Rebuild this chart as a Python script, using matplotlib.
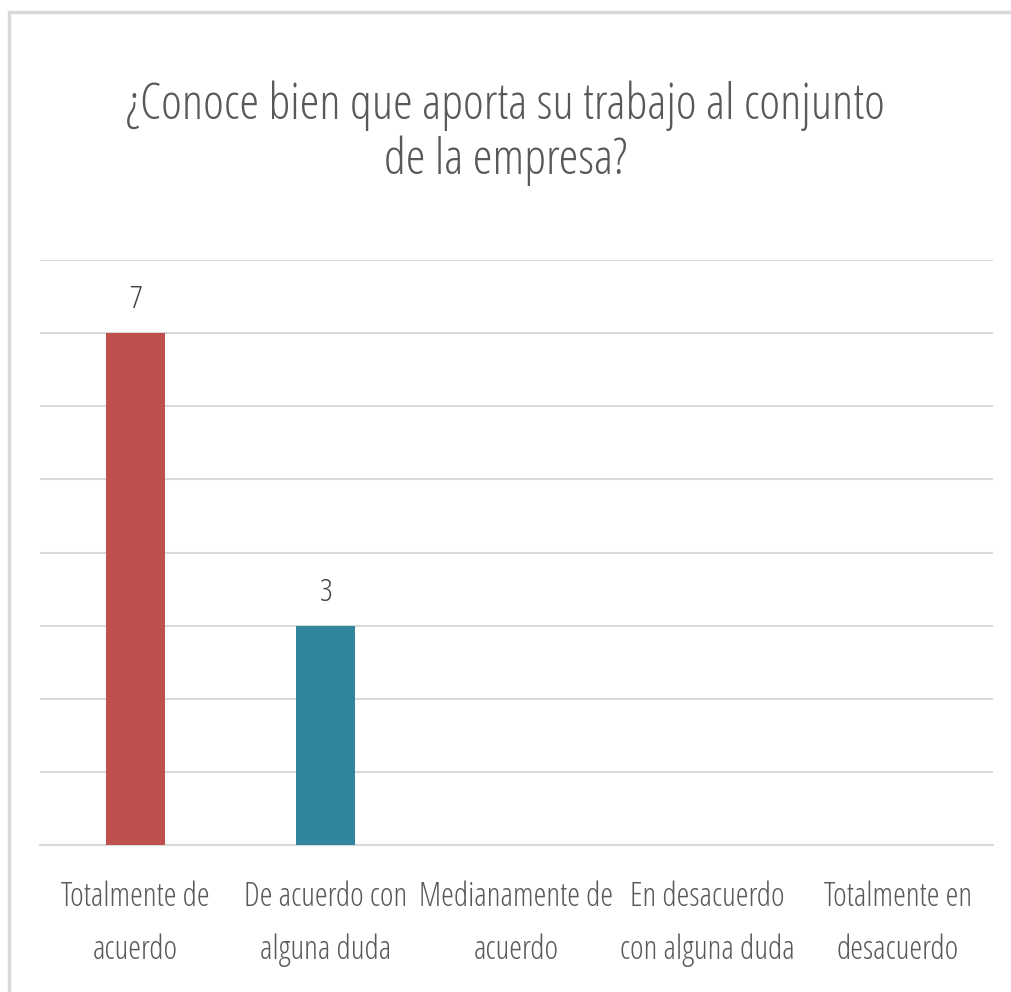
import matplotlib
matplotlib.use("Agg")
import matplotlib.pyplot as plt
from matplotlib.patches import Rectangle

categorias = ["Totalmente de\nacuerdo", "De acuerdo con\nalguna duda", "Medianamente de\nacuerdo",
              "En desacuerdo\ncon alguna duda", "Totalmente en\ndesacuerdo"]
respuestas = [7, 3, 0, 0, 0]
colores = ["#C0504D", "#31859C", "#9BBB59", "#8064A2", "#F79646"]
titulo = "¿Conoce bien que aporta su trabajo al conjunto\nde la empresa?"

letra = dict(family=["Open Sans", "DejaVu Sans"], fontstretch="condensed", fontweight="light")
gris = "#595959"

fig = plt.figure(figsize=(10.11, 9.92), dpi=100)
fig.patches.append(Rectangle((9 / 1011, -0.1), 1.2, 1 - 12 / 992 + 0.1, transform=fig.transFigure,
                             facecolor="white", edgecolor="#D9D9D9", linewidth=2.5, zorder=-1))

ax = fig.add_axes([40 / 1011, 1 - 845 / 992, (993 - 40) / 1011, (845 - 260) / 992])
ax.patch.set_alpha(0)
x = range(len(categorias))
barras = ax.bar(x, respuestas, width=0.31, color=colores, zorder=3)
for b, v in zip(barras, respuestas):
    if v > 0:
        ax.text(b.get_x() + b.get_width() / 2, v + 0.45, str(v), ha="center", va="center",
                fontsize=23, color="#404040", **letra)

ax.set_xlim(-0.5, len(categorias) - 0.5)
ax.set_ylim(0, 8)
ax.set_yticks(range(0, 9))
ax.yaxis.grid(True, color="#D9D9D9", linewidth=1.5)
ax.tick_params(axis="y", left=False, labelleft=False)
ax.tick_params(axis="x", bottom=False, pad=22)
ax.set_xticks(list(x))
ax.set_xticklabels(categorias, fontsize=23.5, color=gris, linespacing=1.75, **letra)
for s in ["top", "right", "left"]:
    ax.spines[s].set_visible(False)
ax.spines["bottom"].set_color("#D9D9D9")
ax.spines["bottom"].set_linewidth(1.5)

fig.text(0.5, 1 - 133 / 992, titulo, ha="center", va="center", fontsize=36, color=gris,
         linespacing=1.12, **letra)

fig.savefig("out.png", dpi=100)
